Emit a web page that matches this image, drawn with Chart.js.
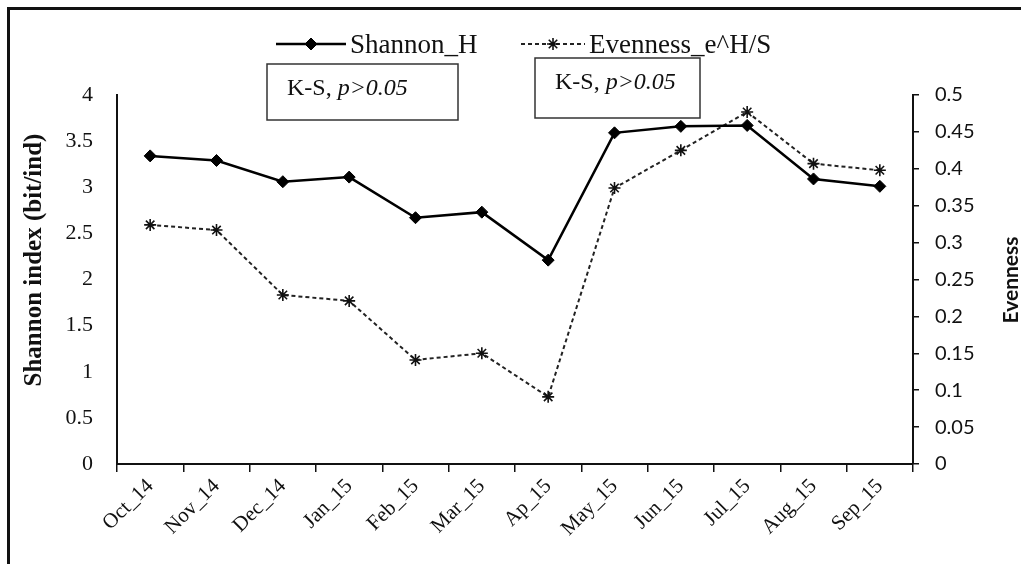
<!DOCTYPE html>
<html>
<head>
<meta charset="utf-8">
<title>Shannon H y Evenness</title>
<script src="https://cdn.jsdelivr.net/npm/chart.js@4.4.1/dist/chart.umd.min.js"></script>
<style>
    html, body { margin: 0; padding: 0; background: #fff; }
    #wrap { position: relative; width: 1021px; height: 564px; overflow: hidden; }
    #grafico { position: absolute; left: 0; top: 0; }
    /* marco de la figura: solo se ven los bordes superior e izquierdo */
    #marco { position: absolute; left: 7px; top: 7px; width: 1100px; height: 700px;
             border-top: 3px solid #111; border-left: 3px solid #111; pointer-events: none; }
</style>
</head>
<body>
<div id="wrap">
    <canvas id="grafico" width="1021" height="564"></canvas>
    <div id="marco"></div>
</div>
<script>
// Datos del gráfico
const meses = ['Oct_14', 'Nov_14', 'Dec_14', 'Jan_15', 'Feb_15', 'Mar_15',
               'Ap_15', 'May_15', 'Jun_15', 'Jul_15', 'Aug_15', 'Sep_15'];
const shannonH = [3.34, 3.29, 3.06, 3.11, 2.67, 2.73, 2.21, 3.59, 3.66, 3.67, 3.09, 3.01];
const evenness = [0.324, 0.317, 0.229, 0.221, 0.141, 0.150, 0.091, 0.374, 0.425, 0.477, 0.407, 0.398];
const nombresSeries = ['Shannon_H', 'Evenness_e^H/S'];
const tituloIzq = 'Shannon index (bit/ind)';
const tituloDer = 'Evenness';
const notaKS = ['K-S, ', 'p>0.05'];

const SERIF = '"Liberation Serif", "Times New Roman", serif';
const SANS = 'Lato, "Open Sans", sans-serif';

// Leyenda dibujada a mano (línea + marcador como en Excel)
const leyendaPlugin = {
    id: 'leyendaPropia',
    afterDraw(chart) {
        const ctx = chart.ctx;
        const items = [
            { x: 276, ancho: 70, y: 44, ds: 0 },
            { x: 521, ancho: 64, y: 44, ds: 1 }
        ];
        items.forEach(it => {
            const ds = chart.data.datasets[it.ds];
            ctx.save();
            ctx.strokeStyle = ds.borderColor;
            ctx.lineWidth = ds.borderWidth;
            ctx.setLineDash(ds.borderDash || []);
            ctx.beginPath();
            ctx.moveTo(it.x, it.y);
            ctx.lineTo(it.x + it.ancho, it.y);
            ctx.stroke();
            ctx.setLineDash([]);
            ctx.fillStyle = ds.pointBackgroundColor;
            ctx.strokeStyle = ds.pointBorderColor;
            ctx.lineWidth = ds.pointBorderWidth;
            Chart.helpers.drawPoint(ctx, {
                pointStyle: ds.pointStyle, radius: ds.pointRadius,
                rotation: 0, borderWidth: ds.pointBorderWidth
            }, it.x + it.ancho / 2, it.y);
            ctx.fillStyle = '#111';
            ctx.font = '27px ' + SERIF;
            ctx.textBaseline = 'alphabetic';
            ctx.fillText(ds.label, it.x + it.ancho + 4, it.y + 9);
            ctx.restore();
        });
    }
};

// Títulos de los ejes (los dos se leen de abajo hacia arriba)
const titulosPlugin = {
    id: 'titulosEjes',
    afterDraw(chart) {
        const ctx = chart.ctx;
        const t = [
            { texto: tituloIzq, x: 35, y: 260, font: 'bold 25px ' + SERIF },
            { texto: tituloDer, x: 1011, y: 280, font: 'bold 21px ' + SANS }
        ];
        t.forEach(a => {
            ctx.save();
            ctx.translate(a.x, a.y);
            ctx.rotate(-Math.PI / 2);
            ctx.fillStyle = '#111';
            ctx.font = a.font;
            ctx.textAlign = 'center';
            ctx.textBaseline = 'middle';
            ctx.fillText(a.texto, 0, 0);
            ctx.restore();
        });
    }
};

// Cuadros con la prueba K-S
const notasPlugin = {
    id: 'notasKS',
    afterDraw(chart) {
        const ctx = chart.ctx;
        const cajas = [
            { x: 267, y: 64, w: 191, h: 56 },
            { x: 535, y: 58, w: 165, h: 60 }
        ];
        cajas.forEach(c => {
            ctx.save();
            ctx.fillStyle = '#fff';
            ctx.fillRect(c.x, c.y, c.w, c.h);
            ctx.strokeStyle = '#333';
            ctx.lineWidth = 1.5;
            ctx.strokeRect(c.x, c.y, c.w, c.h);
            ctx.fillStyle = '#111';
            ctx.textBaseline = 'alphabetic';
            ctx.font = '24px ' + SERIF;
            const tx = c.x + 20;
            const ty = c.y + 31;
            ctx.fillText(notaKS[0], tx, ty);
            const w0 = ctx.measureText(notaKS[0]).width;
            ctx.font = 'italic 24px ' + SERIF;
            ctx.fillText(notaKS[1], tx + w0, ty);
            ctx.restore();
        });
    }
};

const ctx = document.getElementById('grafico').getContext('2d');

new Chart(ctx, {
    type: 'line',
    data: {
        labels: meses,
        datasets: [{
            label: nombresSeries[0],
            data: shannonH,
            yAxisID: 'y',
            borderColor: '#000',
            borderWidth: 2.5,
            pointStyle: 'rectRot',
            pointRadius: 6,
            pointBackgroundColor: '#000',
            pointBorderColor: '#000',
            pointBorderWidth: 1,
            tension: 0
        }, {
            label: nombresSeries[1],
            data: evenness,
            yAxisID: 'y1',
            borderColor: '#222',
            borderWidth: 2,
            borderDash: [4, 3],
            pointStyle: 'star',
            pointRadius: 6,
            pointBackgroundColor: '#111',
            pointBorderColor: '#111',
            pointBorderWidth: 1.6,
            tension: 0
        }]
    },
    options: {
        responsive: false,
        animation: false,
        layout: { padding: { top: 95, left: 0, right: 0, bottom: 0 } },
        plugins: {
            legend: { display: false },
            tooltip: { enabled: false }
        },
        scales: {
            x: {
                offset: true,
                grid: { offset: true, drawOnChartArea: false, drawTicks: true, tickLength: 8, color: '#111', lineWidth: 1.5 },
                border: { color: '#111', width: 2 },
                ticks: {
                    color: '#111',
                    font: { family: SERIF, size: 21 },
                    minRotation: 45,
                    maxRotation: 45,
                    padding: 2
                },
                afterFit: s => { s.height = 100; }
            },
            y: {
                position: 'left',
                min: 0,
                max: 4,
                grid: { display: false, drawTicks: false },
                border: { color: '#111', width: 2 },
                ticks: {
                    stepSize: 0.5,
                    color: '#111',
                    font: { family: SERIF, size: 22 },
                    padding: 24,
                    callback: v => String(v)
                },
                afterFit: s => { s.width = 117; }
            },
            y1: {
                position: 'right',
                min: 0,
                max: 0.5,
                grid: { drawOnChartArea: false, drawTicks: true, tickLength: 6, color: '#111', lineWidth: 1.5 },
                border: { color: '#111', width: 2 },
                ticks: {
                    stepSize: 0.05,
                    color: '#111',
                    font: { family: SANS, size: 20 },
                    padding: 16,
                    callback: v => String(Math.round(v * 100) / 100)
                },
                afterFit: s => { s.width = 108; }
            }
        }
    },
    plugins: [leyendaPlugin, titulosPlugin, notasPlugin]
});
</script>
</body>
</html>
